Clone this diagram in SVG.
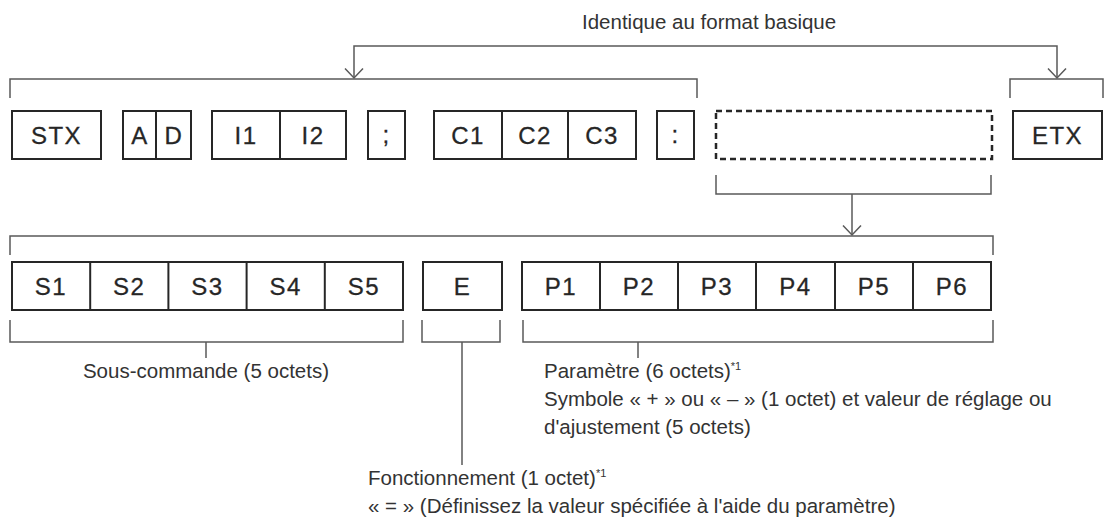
<svg xmlns="http://www.w3.org/2000/svg" width="1109" height="523" viewBox="0 0 1109 523">
<style>
.box{fill:#fff;stroke:#262626;stroke-width:2}
.div{stroke:#262626;stroke-width:2}
.dash{fill:none;stroke:#262626;stroke-width:2.5;stroke-dasharray:6 4}
.br{fill:none;stroke:#5a5a5a;stroke-width:1.5}
.bl{font-family:"Liberation Sans",Arial,sans-serif;font-size:24px;fill:#262626;stroke:#262626;stroke-width:0.3;text-anchor:middle;letter-spacing:1.5px}
.lb{font-family:"Liberation Sans",Arial,sans-serif;font-size:20.5px;fill:#333}
.sup{font-size:11px}
</style>
<defs>
<marker id="arr" viewBox="0 0 12 20" refX="10.5" refY="10" markerWidth="12" markerHeight="20" markerUnits="userSpaceOnUse" orient="auto-start-reverse">
<path d="M1,1 L10.5,10 L1,19" fill="none" stroke="#5a5a5a" stroke-width="1.5"/>
</marker>
</defs>
<rect width="1109" height="523" fill="#fff"/>

<g id="connectors">
<path class="br" d="M354,78 V46 H1057 V78" marker-start="url(#arr)" marker-end="url(#arr)"/>
<path class="br" d="M10,98 V79 H697 V98"/>
<path class="br" d="M1010,98 V79 H1103 V98"/>
<path class="br" d="M716,175 V194 H991 V175"/>
<path class="br" d="M852,194 V235" marker-end="url(#arr)"/>
<path class="br" d="M10,255 V236 H993 V255"/>
<path class="br" d="M10,320 V342 H403 V320 M206,342 V358"/>
<path class="br" d="M422,320 V342 H500 V320 M462,342 V465"/>
<path class="br" d="M523,320 V342 H993 V320 M638,342 V358"/>
</g>

<text class="lb" x="582" y="29">Identique au format basique</text>

<g id="stx"><rect class="box" x="12" y="111" width="89" height="48"/><text class="bl" x="56.5" y="144">STX</text></g>
<g id="ad"><rect class="box" x="123" y="111" width="68" height="48"/><line class="div" x1="156" y1="111" x2="156" y2="159"/><text class="bl" x="140" y="144">A</text><text class="bl" x="174" y="144">D</text></g>
<g id="i"><rect class="box" x="212" y="111" width="134" height="48"/><line class="div" x1="280" y1="111" x2="280" y2="159"/><text class="bl" x="246" y="144">I1</text><text class="bl" x="313" y="144">I2</text></g>
<g id="semi"><rect class="box" x="368" y="111" width="37" height="48"/><text class="bl" x="386.5" y="143">;</text></g>
<g id="c"><rect class="box" x="434" y="111" width="202" height="48"/><line class="div" x1="502" y1="111" x2="502" y2="159"/><line class="div" x1="568" y1="111" x2="568" y2="159"/><text class="bl" x="468" y="144">C1</text><text class="bl" x="535" y="144">C2</text><text class="bl" x="602" y="144">C3</text></g>
<g id="colon"><rect class="box" x="657" y="111" width="37" height="48"/><text class="bl" x="675.5" y="143">:</text></g>
<g id="param-slot"><rect class="dash" x="716" y="111" width="276" height="48"/></g>
<g id="etx"><rect class="box" x="1013" y="111" width="89" height="48"/><text class="bl" x="1057.5" y="144">ETX</text></g>

<g id="s"><rect class="box" x="12" y="262" width="391" height="48"/>
<line class="div" x1="90.2" y1="262" x2="90.2" y2="310"/><line class="div" x1="168.4" y1="262" x2="168.4" y2="310"/><line class="div" x1="246.6" y1="262" x2="246.6" y2="310"/><line class="div" x1="324.8" y1="262" x2="324.8" y2="310"/>
<text class="bl" x="51" y="295">S1</text><text class="bl" x="129.3" y="295">S2</text><text class="bl" x="207.5" y="295">S3</text><text class="bl" x="285.7" y="295">S4</text><text class="bl" x="363.9" y="295">S5</text></g>
<g id="e"><rect class="box" x="423" y="262" width="79" height="48"/><text class="bl" x="462.5" y="295">E</text></g>
<g id="p"><rect class="box" x="522" y="262" width="469" height="48"/>
<line class="div" x1="600" y1="262" x2="600" y2="310"/><line class="div" x1="678" y1="262" x2="678" y2="310"/><line class="div" x1="756" y1="262" x2="756" y2="310"/><line class="div" x1="835" y1="262" x2="835" y2="310"/><line class="div" x1="913" y1="262" x2="913" y2="310"/>
<text class="bl" x="561" y="295">P1</text><text class="bl" x="639" y="295">P2</text><text class="bl" x="717" y="295">P3</text><text class="bl" x="795.5" y="295">P4</text><text class="bl" x="874" y="295">P5</text><text class="bl" x="952" y="295">P6</text></g>

<text class="lb" x="206" y="378" text-anchor="middle">Sous-commande (5 octets)</text>
<text class="lb" x="544" y="378">Paramètre (6 octets)<tspan class="sup" dy="-8">*1</tspan></text>
<text class="lb" x="544" y="406">Symbole « + » ou « – » (1 octet) et valeur de réglage ou</text>
<text class="lb" x="544" y="434">d'ajustement (5 octets)</text>
<text class="lb" x="368" y="485">Fonctionnement (1 octet)<tspan class="sup" dy="-8">*1</tspan></text>
<text class="lb" x="368" y="513">« = » (Définissez la valeur spécifiée à l'aide du paramètre)</text>
</svg>
